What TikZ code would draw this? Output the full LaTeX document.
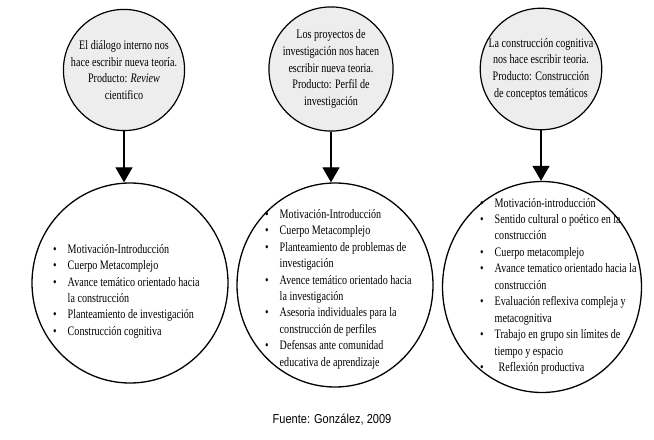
\documentclass[tikz,border=0pt]{standalone}
\usepackage{fontspec}
\setmainfont{Liberation Serif}[FakeStretch=0.78]
\newfontfamily\sourcefont{Liberation Sans}[FakeStretch=0.85]
\usetikzlibrary{arrows.meta,shapes.geometric}

\begin{document}
\begin{tikzpicture}[x=1bp,y=-1bp,
  idea/.style={circle,draw,line width=1.2bp,fill=gray!14,minimum size=118bp,
    inner sep=0pt,align=center,font=\fontsize{13}{16.7}\selectfont},
  plan/.style={ellipse,draw,line width=1.3bp,fill=white,inner sep=0pt},
  items/.style={anchor=west,inner sep=0pt,font=\fontsize{13}{16.5}\selectfont},
  flow/.style={-{Triangle[width=17bp,length=15bp]},line width=1.3bp}]
  \useasboundingbox[fill=white] (0,0) rectangle (654,440);
  % upper circles
  \node[idea] (idea1) at (124,70) {El diálogo interno nos\\hace escribir nueva teoría.\\Producto: \textit{Review}\\cientifico};
  \node[idea] (idea2) at (331,69) {Los proyectos de\\investigación nos hacen\\escribir nueva teoria.\\Producto: Perfil de\\investigación};
  \node[idea] (idea3) at (541,69) {La construcción cognitiva\\nos hace escribir teoria.\\Producto: Construcción\\de conceptos temáticos};
  % lower circles
  \node[plan,minimum width=196bp,minimum height=200bp] (plan1) at (130,283) {};
  \node[plan,minimum width=196bp,minimum height=204bp] (plan2) at (335,285) {};
  \node[plan,minimum width=199bp,minimum height=211bp] (plan3) at (542,287) {};
  \draw[flow] (idea1.south) -- (idea1.south |- plan1.north);
  \draw[flow] (idea2.south) -- (idea2.south |- plan2.north);
  \draw[flow] (idea3.south) -- (idea3.south |- plan3.north);
  % lists
  \node[items] (list1) at (53,291) {\begin{tabular}{@{}l@{\hspace{11bp}}l@{}}
    \textbullet & Motivación-Introducción\\
    \textbullet & Cuerpo Metacomplejo\\
    \textbullet & Avance temático orientado hacia\\
                & la construcción\\
    \textbullet & Planteamiento de investigación\\
    \textbullet & Construcción cognitiva
  \end{tabular}};
  \node[items] (list2) at (265,289) {\begin{tabular}{@{}l@{\hspace{11bp}}l@{}}
    \textbullet & Motivación-Introducción\\
    \textbullet & Cuerpo Metacomplejo\\
    \textbullet & Planteamiento de problemas de\\
                & investigación\\
    \textbullet & Avence temático orientado hacia\\
                & la investigación\\
    \textbullet & Asesoria individuales para la\\
                & construcción de perfiles\\
    \textbullet & Defensas ante comunidad\\
                & educativa de aprendizaje
  \end{tabular}};
  \node[items] (list3) at (480,286) {\begin{tabular}{@{}l@{\hspace{11bp}}l@{}}
    \textbullet & Motivación-introducción\\
    \textbullet & Sentido cultural o poético en la\\
                & construcción\\
    \textbullet & Cuerpo metacomplejo\\
    \textbullet & Avance tematico orientado hacia la\\
                & construcción\\
    \textbullet & Evaluación reflexiva compleja y\\
                & metacognitiva\\
    \textbullet & Trabajo en grupo sin límites de\\
                & tiempo y espacio\\
    \textbullet & \hspace{4bp}Reflexión productiva
  \end{tabular}};
  \node[font=\sourcefont\fontsize{13}{15}\selectfont] (source) at (332,420) {Fuente: González, 2009};
\end{tikzpicture}
\end{document}
